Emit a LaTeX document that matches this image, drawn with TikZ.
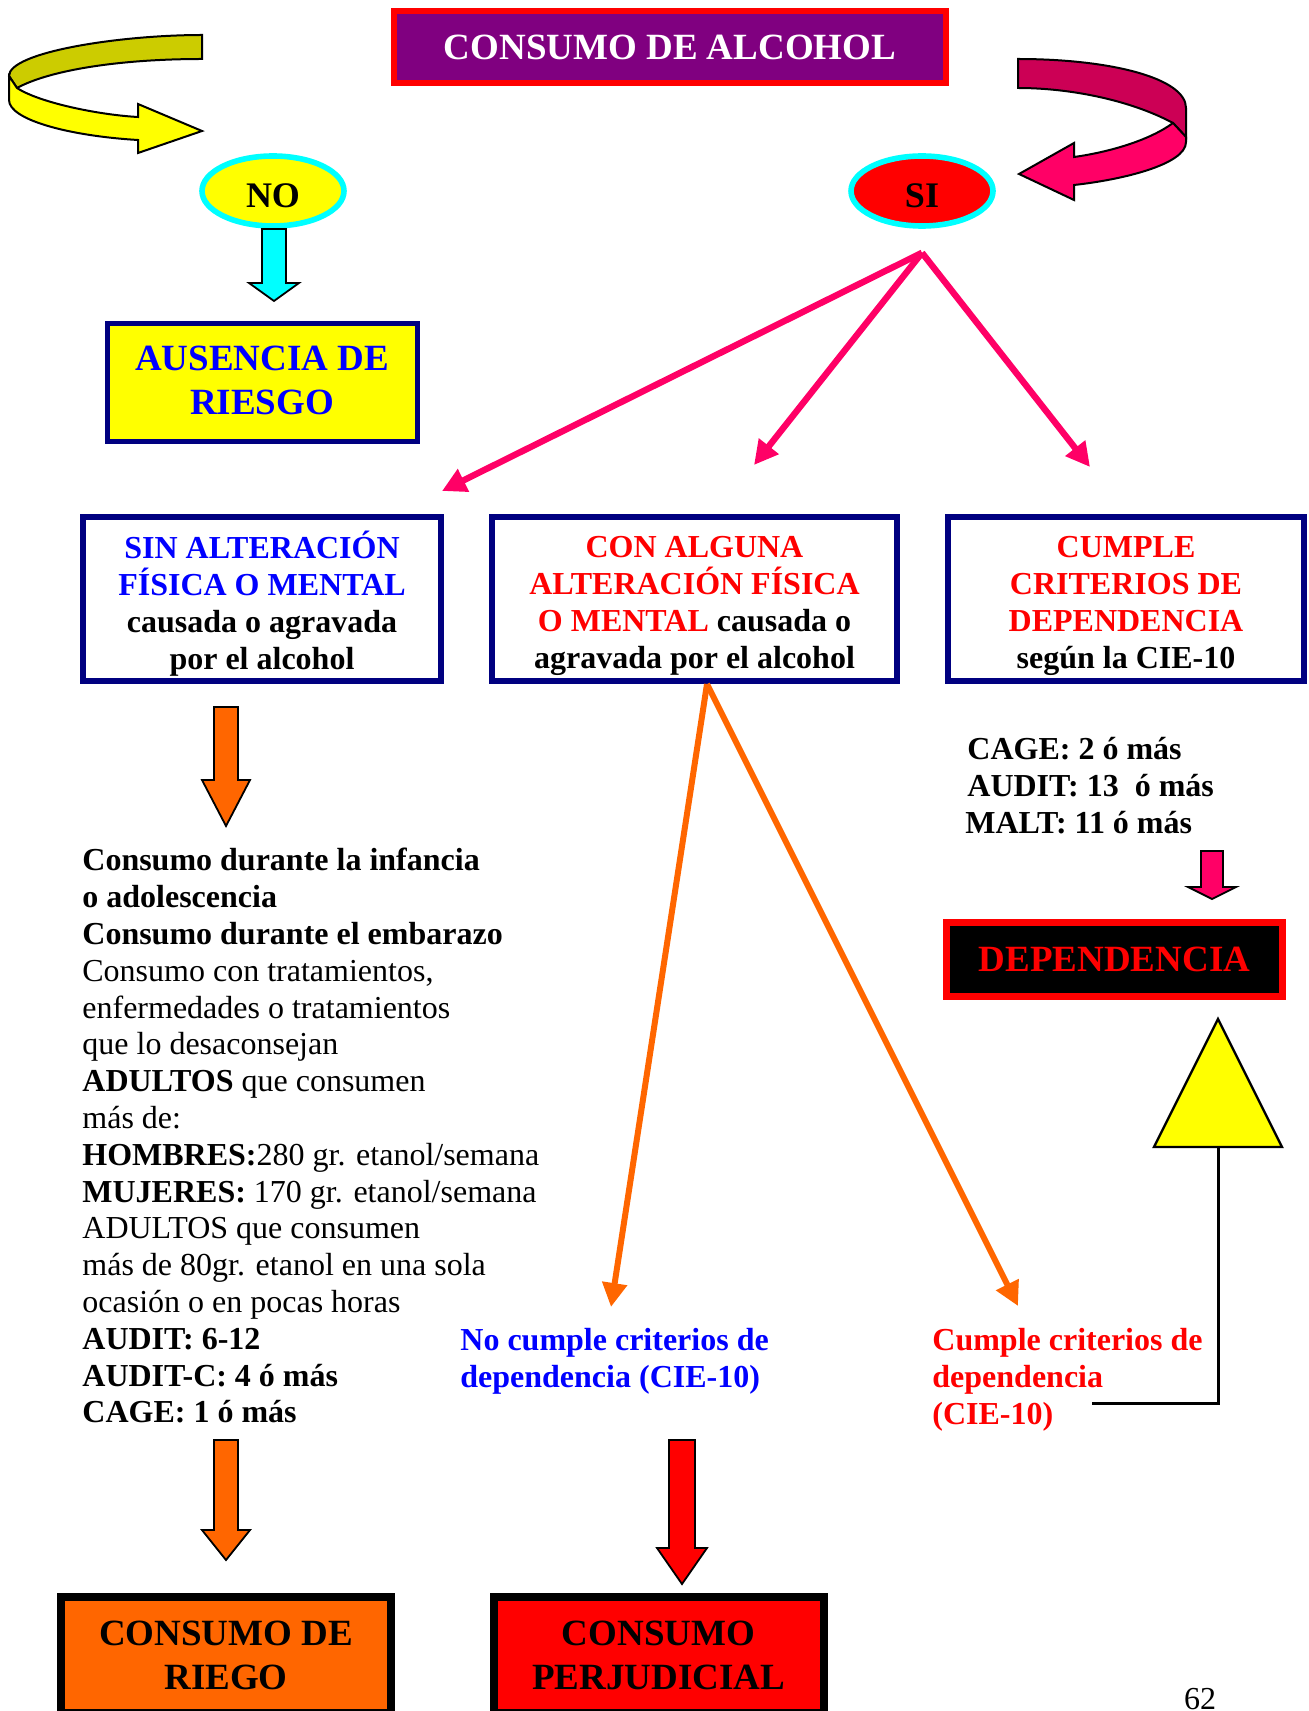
\documentclass[tikz,border=0pt]{standalone}
\usepackage{fontspec}
\setmainfont{Liberation Serif}
\usepackage{xcolor}
\usetikzlibrary{positioning,shapes.geometric,arrows.meta}

\definecolor{purpura}{HTML}{800080}
\definecolor{marino}{HTML}{000080}
\definecolor{rosa}{HTML}{FF0066}
\definecolor{granate}{HTML}{CC0055}
\definecolor{naranja}{HTML}{FF6600}
\definecolor{oliva}{HTML}{CCCC00}
\definecolor{celeste}{HTML}{00FFFF}
\definecolor{amarillo}{HTML}{FFFF00}

\newcommand{\letragrande}{\bfseries\fontsize{18.5}{22}\selectfont}
\newcommand{\letracaja}{\bfseries\fontsize{16}{18.5}\selectfont}
% flecha de bloque hacia abajo: x centro, arriba, inicio punta, punta, medio tallo, media punta, color
\newcommand{\flechabloque}[7]{%
  \draw[line width=0.9pt, fill=#7] (#1-#5,#2) -- (#1+#5,#2) -- (#1+#5,#3) -- (#1+#6,#3)
    -- (#1,#4) -- (#1-#6,#3) -- (#1-#5,#3) -- cycle;}

\tikzset{
  titulo/.style={draw=red, fill=purpura, line width=3pt, text=white, font=\letragrande},
  elipse/.style={ellipse, draw=celeste, line width=2.8pt, minimum width=71pt, minimum height=35pt,
                 text height=17pt, text depth=0pt, font=\bfseries\fontsize{18}{20}\selectfont},
  caja/.style={draw=marino, line width=3pt, fill=white, minimum height=82pt},
  textocaja/.style={align=center, font=\letracaja},
  final/.style={draw=black, line width=4pt, align=center, font=\letragrande, minimum width=165pt, minimum height=58pt},
  rama/.style={rosa, line width=3.2pt, -{Triangle[length=12pt,width=12pt]}},
  ramanar/.style={naranja, line width=3pt, -{Triangle[length=12pt,width=12pt]}},
}

\begin{document}
\begin{tikzpicture}[x=0.5pt, y=-0.5pt,
                every node/.append style = {inner sep = 0pt}]
\useasboundingbox (0,0) rectangle (1309,1711);
\clip (0,0) rectangle (1309,1711);

% flechas curvas
\draw[line width=1pt, fill=oliva] (202,35) .. controls (120,35) and (9,52) .. (9,76)
  -- (17,88) .. controls (50,70) and (120,59) .. (202,59) -- cycle;
\draw[line width=1pt, fill=amarillo] (9,76) -- (17,88) .. controls (40,103) and (100,115) .. (138,117)
  -- (138,104) -- (202,131) -- (138,153) -- (138,140) .. controls (70,136) and (9,120) .. (9,100) -- cycle;
\draw[line width=1pt, fill=granate] (1018,59) .. controls (1110,59) and (1186,78) .. (1186,108)
  -- (1186,137) -- (1173,123) .. controls (1130,100) and (1070,88) .. (1018,88) -- cycle;
\draw[line width=1pt, fill=rosa] (1173,123) -- (1186,137) -- (1186,142) .. controls (1186,165) and (1120,180) .. (1074,185)
  -- (1074,200) -- (1019,174) -- (1074,143) -- (1074,157) .. controls (1110,152) and (1150,140) .. (1173,123) -- cycle;

\node[titulo, minimum width=276pt, minimum height=36pt] (alcohol) at (670,47) {CONSUMO DE ALCOHOL};
\node[elipse, fill=amarillo] (no) at (273,191) {NO};
\node[elipse, fill=red] (si) at (922,191) {SI};

\flechabloque{274}{229}{283}{301}{12}{25}{celeste}
\node[draw=marino, line width=2.5pt, fill=amarillo, minimum width=155pt, minimum height=59pt] (ausencia) at (262,383) {};
\node[textocaja, font=\letragrande, text=blue] (ausencia-t) at ([yshift=1.5pt]ausencia.center) {AUSENCIA DE\\RIESGO};

\node[caja, minimum width=179pt] (sinalt) at (262,599) {};
\node[textocaja] (sinalt-t) at ([yshift=-2.3pt]sinalt.center)
  {\textcolor{blue}{SIN ALTERACIÓN}\\\textcolor{blue}{FÍSICA O MENTAL}\\causada o agravada\\por el alcohol};
\node[caja, minimum width=202.5pt] (conalt) at (694.5,599) {};
\node[textocaja] (conalt-t) at ([yshift=-3.3pt]conalt.center)
  {\textcolor{red}{CON ALGUNA}\\\textcolor{red}{ALTERACIÓN FÍSICA}\\\textcolor{red}{O MENTAL} causada o\\agravada por el alcohol};
\node[caja, minimum width=178pt] (cumple) at (1126,599) {};
\node[textocaja] (cumple-t) at ([yshift=-3.3pt]cumple.center)
  {\textcolor{red}{CUMPLE}\\\textcolor{red}{CRITERIOS DE}\\\textcolor{red}{DEPENDENCIA}\\según la CIE-10};

% ramas desde SI
\coordinate (horq) at ([yshift=-12pt]si.south);
\coordinate (p1) at (442,491);
\coordinate (p2) at (754,465);
\coordinate (p3) at (1090,467);
\draw[rama] (horq) -- (p1);
\draw[rama] (horq) -- (p2);
\draw[rama] (horq) -- (p3);

\flechabloque{226}{707}{780}{826}{12}{24}{naranja}

\node[anchor=north west, align=left, font=\fontsize{16}{18.4}\selectfont] (lista) at (82,848)
  {\textbf{Consumo durante la infancia}\\
   \textbf{o adolescencia}\\
   \textbf{Consumo durante el embarazo}\\
   Consumo con tratamientos,\\
   enfermedades o tratamientos\\
   que lo desaconsejan\\
   \textbf{ADULTOS} que consumen\\
   más de:\\
   \textbf{HOMBRES:}280 gr. etanol/semana\\
   \textbf{MUJERES:} 170 gr. etanol/semana\\
   ADULTOS que consumen\\
   más de 80gr. etanol en una sola\\
   ocasión o en pocas horas\\
   \textbf{AUDIT: 6-12}\\
   \textbf{AUDIT-C: 4 ó más}\\
   \textbf{CAGE: 1 ó más}};

% ramas desde CON ALGUNA
\coordinate (horqN) at ([xshift=6.25pt]conalt.south);
\coordinate (q1) at (611,1307);
\coordinate (q2) at (1018,1306);
\draw[ramanar] (horqN) -- (q1);
\draw[ramanar] (horqN) -- (q2);

\node[anchor=north west, align=left, font=\letracaja, text=blue] (nocumple) at (460,1328)
  {No cumple criterios de\\dependencia (CIE-10)};
\node[anchor=north west, align=left, font=\letracaja, text=red] (sicumple) at (932,1328)
  {Cumple criterios de\\dependencia\\(CIE-10)};

\node[anchor=north west, align=left, font=\letracaja] (escalas) at (967,737)
  {CAGE: 2 ó más\\AUDIT: 13\ \ ó más\\\hspace{-1pt}MALT: 11 ó más};
\flechabloque{1212}{851}{887}{899}{11}{24}{rosa}
\node[draw=red, fill=black, line width=3.5pt, text=red, font=\letragrande,
      minimum width=168pt, minimum height=37pt] (dependencia) at (1114.5,959.5) {DEPENDENCIA};

% triangulo y linea
\draw[line width=1.2pt, fill=amarillo] (1218,1019) -- (1282,1147) -- (1154,1147) -- cycle;
\coordinate (tri) at (1218,1147);
\coordinate (l1) at (1092,1403);
\draw[line width=1.5pt] (l1) -| (tri);

\flechabloque{226}{1440}{1530}{1560}{12}{24}{naranja}
\flechabloque{682}{1440}{1548}{1584}{13}{25}{red}

\node[final, fill=naranja] (riesgo) at (226,1655) {CONSUMO DE\\RIEGO};
\node[final, fill=red] (perjudicial) at (658.5,1655) {CONSUMO\\PERJUDICIAL};

\node[anchor=north, font=\fontsize{16}{18}\selectfont] (pagina) at (1200,1688) {62};
\end{tikzpicture}
\end{document}
